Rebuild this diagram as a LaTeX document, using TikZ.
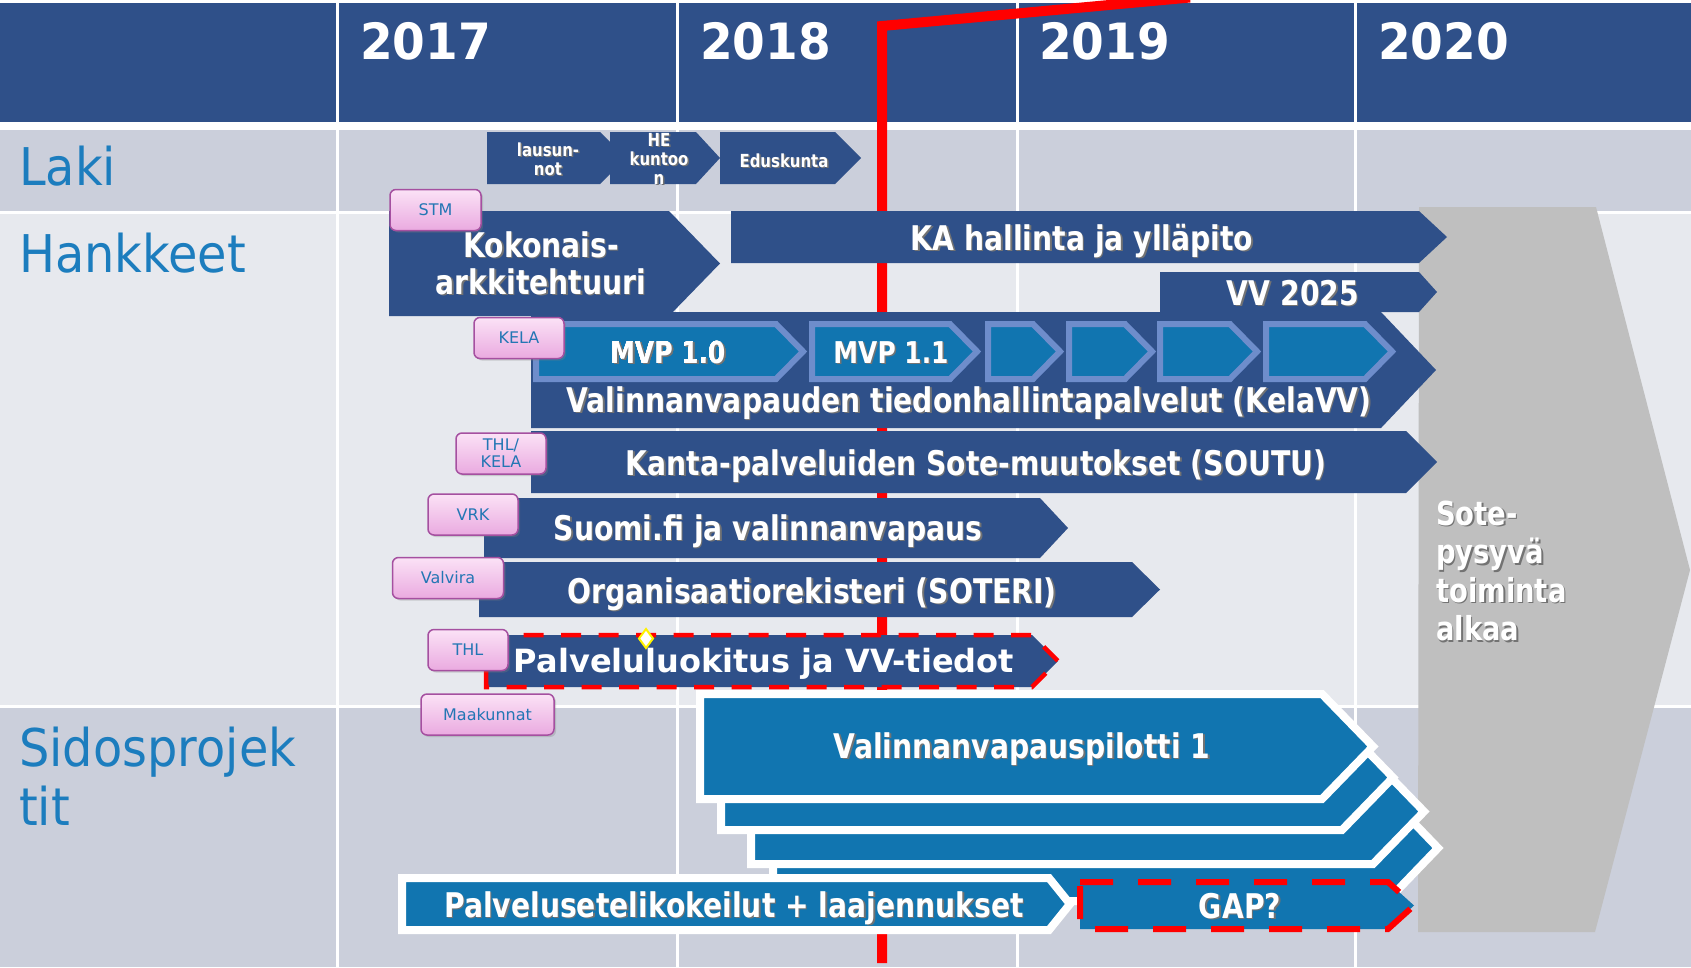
\documentclass[tikz,border=0pt]{standalone}
\usepackage{fontspec}
\setmainfont{DejaVu Sans}
\newfontfamily\yearfont[FakeStretch=0.94]{DejaVu Sans}
\newfontfamily\rowfont[FakeStretch=0.92]{DejaVu Sans}
\newfontfamily\barfont[FakeStretch=0.83]{DejaVu Sans}
\usetikzlibrary{shadows}

\definecolor{hdrblue}{RGB}{47,80,137}
\definecolor{midblue}{RGB}{17,117,176}
\definecolor{mvpedge}{RGB}{110,141,203}
\definecolor{rowdark}{RGB}{203,207,219}
\definecolor{rowlight}{RGB}{231,233,238}
\definecolor{sotegray}{RGB}{191,191,191}
\definecolor{labelblue}{RGB}{28,125,190}
\definecolor{tagtext}{RGB}{35,118,180}
\definecolor{tagedge}{RGB}{165,80,160}
\definecolor{tagtop}{RGB}{251,226,246}
\definecolor{tagbot}{RGB}{234,170,224}

% texte blanc avec ombre portée
\newcommand{\shd}[1]{\rlap{\kern1.5pt\raisebox{-1.5pt}{\textcolor{black!55}{#1}}}#1}
% flèche : [style]{gauche}{haut}{fin du corps}{pointe}{bas}
\newcommand{\pent}[6][]{\path[#1] (#2,#3) -- (#4,#3) -- (#5,{(#3+#6)/2}) -- (#4,#6) -- (#2,#6) -- cycle;}

\tikzset{
  year/.style={anchor=base west, inner sep=0pt, text=white, font=\yearfont\bfseries\fontsize{50}{56}\selectfont},
  rowlabel/.style={anchor=base west, inner sep=0pt, text=labelblue, font=\rowfont\fontsize{52}{59}\selectfont},
  bartxt/.style={anchor=base, inner sep=0pt, text=white, font=\barfont\bfseries\fontsize{34}{37}\selectfont},
  smalltxt/.style={inner sep=0pt, text=white, align=center, font=\barfont\bfseries\fontsize{18}{19}\selectfont},
  darkbar/.style={fill=hdrblue},
  mvpbox/.style={fill=midblue, draw=mvpedge, line width=6pt},
  pilotbox/.style={fill=midblue, draw=white, line width=8pt, drop shadow={shadow xshift=1pt, shadow yshift=-3pt, opacity=.35}},
  redborder/.style={draw=red, line width=4.5pt, dash pattern=on 20pt off 17.5pt},
  tagbox/.style={draw=tagedge, line width=1.5pt, rounded corners=6pt, top color=tagtop, bottom color=tagbot, text=tagtext, font=\fontsize{16}{17}\selectfont, minimum height=41pt, inner sep=0pt, align=center, drop shadow={shadow xshift=2pt, shadow yshift=-2pt, opacity=.3}},
}

\begin{document}
\begin{tikzpicture}[x=1pt, y=-1pt]
\useasboundingbox (0,0) rectangle (1691,967);
\fill[white] (0,0) rectangle (1691,967);

% fonds et colonnes
\fill[hdrblue] (0,3) rectangle (1691,122);
\fill[rowdark] (0,130) rectangle (1691,211);
\fill[rowlight] (0,214) rectangle (1691,705);
\fill[rowdark] (0,708) rectangle (1691,967);
\foreach \xx in {337.5,677,1017,1355.5}
  \draw[white, line width=3pt] (\xx,3) -- (\xx,967);

\foreach \yr/\xx in {2017/360,2018/700,2019/1039,2020/1378}
  \node[year] (y\yr) at (\xx,59.5) {\yr};

\node[rowlabel] (laki) at (19,185) {Laki};
\node[rowlabel] (hankkeet) at (19,272) {Hankkeet};
\node[rowlabel] (sidos) at (19,766) {Sidosprojek};
\node[rowlabel] (sidos2) at (19,825) {tit};

% grande flèche grise
\fill[sotegray] (1419,207) -- (1596,207) -- (1690,570) -- (1595,932) -- (1418,932) -- cycle;
\node[bartxt, anchor=north west, align=left, font=\barfont\bfseries\fontsize{33}{38.5}\selectfont] (sote) at (1436,500.5) {\shd{Sote-}\\\shd{pysyvä}\\\shd{toiminta}\\\shd{alkaa}};

% ligne rouge
\draw[red, line width=10pt] (882,963) -- (882,26) -- (1190,-2.5);

% Laki
\pent[darkbar]{487}{132}{600}{626}{184}
\pent[darkbar]{610}{132}{696}{720}{184}
\pent[darkbar]{720}{132}{835}{861}{184}
\node[smalltxt, anchor=north] (lausunnot) at (548,142.5) {\shd{lausun-}\\\shd{not}};
\node[smalltxt, anchor=north] (hekuntoon) at (659,133) {\shd{HE}\\\shd{kuntoo}\\\shd{n}};
\node[smalltxt, anchor=base] (eduskunta) at (784,167) {\shd{Eduskunta}};

% Hankkeet
\pent[darkbar]{389}{211}{669}{720}{316}
\node[bartxt, anchor=north, align=center] (kokonais) at (541,231) {\shd{Kokonais-}\\\shd{arkkitehtuuri}};
\pent[darkbar]{731}{211}{1419}{1447}{263}
\node[bartxt] (kahallinta) at (1082,250) {\shd{KA hallinta ja ylläpito}};
\pent[darkbar]{1160}{272}{1419}{1437}{312}
\node[bartxt] (vv2025) at (1293,305) {\shd{VV 2025}};
\pent[darkbar]{531}{312}{1381}{1436}{428}
\foreach \lx/\bx/\tx in {536/776/803,812/950/977,988/1033/1060,1069/1125/1152,1160/1230/1257,1266/1365/1392}
  \pent[mvpbox]{\lx}{324}{\bx}{\tx}{379}
\node[bartxt, font=\barfont\bfseries\fontsize{30}{34}\selectfont] (mvp10) at (668,363) {\shd{MVP 1.0}};
\node[bartxt, font=\barfont\bfseries\fontsize{30}{34}\selectfont] (mvp11) at (891,363) {\shd{MVP 1.1}};
\node[bartxt] (kelavv) at (969,412) {\shd{Valinnanvapauden tiedonhallintapalvelut (KelaVV)}};
\pent[darkbar]{531}{431}{1406}{1437}{493}
\node[bartxt] (soutu) at (976,475) {\shd{Kanta-palveluiden Sote-muutokset (SOUTU)}};
\pent[darkbar]{484}{498}{1040}{1068}{558}
\node[bartxt] (suomifi) at (768,540) {\shd{Suomi.fi ja valinnanvapaus}};
\pent[darkbar]{479}{562}{1132}{1160}{617}
\node[bartxt] (soteri) at (812,603) {\shd{Organisaatiorekisteri (SOTERI)}};
\pent[darkbar, redborder]{486}{635}{1032}{1058}{687}
\node[bartxt, font=\bfseries\fontsize{32}{36}\selectfont] (palvelu) at (764,672) {Palveluluokitus ja VV-tiedot};

% Sidosprojektit
\pent[pilotbox]{773}{795}{1387}{1438}{901}
\pent[pilotbox]{751}{759}{1373}{1424}{864}
\pent[pilotbox]{721}{725}{1342}{1393}{830}
\pent[pilotbox]{700}{694}{1322}{1373}{799}
\node[bartxt] (pilotti) at (1022,758) {\shd{Valinnanvapauspilotti 1}};
\pent[pilotbox]{402}{878}{1049}{1070}{930}
\node[bartxt] (seteli) at (734,917) {\shd{Palvelusetelikokeilut + laajennukset}};
\pent[fill=midblue, redborder, line width=6pt, dash pattern=on 33pt off 25pt]{1080}{882}{1388}{1414}{929}
\node[bartxt] (gap) at (1240,918) {\shd{GAP?}};

% vastuutahot
\node[tagbox, minimum width=91pt] (stm) at (435.5,210) {STM};
\node[tagbox, minimum width=90pt] (kela) at (519,338) {KELA};
\node[tagbox, minimum width=90pt] (thlkela) at (501,453.5) {THL/\\KELA};
\node[tagbox, minimum width=90pt] (vrk) at (473,514.5) {VRK};
\node[tagbox, minimum width=111pt] (valvira) at (448,578) {Valvira};
\node[tagbox, minimum width=80pt] (thl) at (468,650) {THL};
\node[tagbox, minimum width=133pt] (maakunnat) at (487.5,714.5) {Maakunnat};

\draw[yellow, line width=2pt, fill=white] (646,629) -- (653,638.5) -- (646,648) -- (639,638.5) -- cycle;
\end{tikzpicture}
\end{document}
